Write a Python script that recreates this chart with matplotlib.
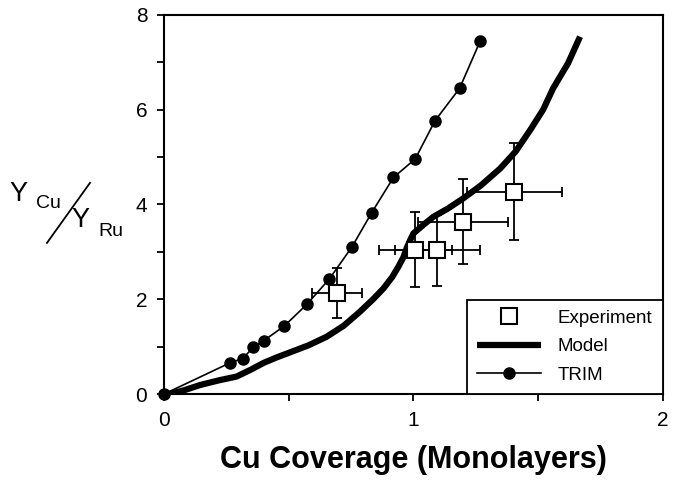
import matplotlib
matplotlib.use("Agg")
import matplotlib.pyplot as plt
from matplotlib.lines import Line2D
from matplotlib.ticker import MultipleLocator, FixedLocator

plt.rcParams['font.family'] = ['Liberation Sans', 'DejaVu Sans']

# TRIM simulation
trim_x = [0.0, 0.265, 0.316, 0.358, 0.401, 0.483, 0.572, 0.663, 0.753, 0.833,
          0.92, 1.007, 1.087, 1.185, 1.267]
trim_y = [0.0, 0.66, 0.75, 0.99, 1.13, 1.44, 1.89, 2.43, 3.10, 3.83,
          4.57, 4.96, 5.77, 6.45, 7.44]

# model curve
model_x = [0.02, 0.08, 0.144, 0.22, 0.291, 0.35, 0.40, 0.45, 0.505, 0.58,
           0.652, 0.72, 0.786, 0.84, 0.88, 0.915, 0.94, 0.96, 0.973, 0.988,
           1.0, 1.04, 1.08, 1.14, 1.2, 1.27, 1.348, 1.41, 1.468, 1.52,
           1.56, 1.62, 1.668]
model_y = [0.0, 0.08, 0.19, 0.29, 0.37, 0.52, 0.66, 0.77, 0.88, 1.03,
           1.21, 1.44, 1.74, 2.01, 2.23, 2.47, 2.69, 2.89, 3.08, 3.26,
           3.39, 3.57, 3.74, 3.92, 4.13, 4.40, 4.76, 5.12, 5.57, 6.00,
           6.45, 6.98, 7.54]

# experiment with error bars
exp_x = [0.692, 1.007, 1.096, 1.20, 1.404]
exp_y = [2.13, 3.05, 3.03, 3.64, 4.27]
exp_xerr = [0.10, 0.147, 0.17, 0.18, 0.19]
exp_yerr = [0.52, 0.80, 0.75, 0.89, 1.02]

fig = plt.figure(figsize=(6.75, 4.8), dpi=100)
ax = fig.add_axes([0.243, 0.179, 0.739, 0.790])

ax.errorbar(exp_x, exp_y, xerr=exp_xerr, yerr=exp_yerr, fmt='none',
            ecolor='black', elinewidth=1.3, capsize=3.5, capthick=1.3, zorder=2)
ax.plot(model_x, model_y, color='black', lw=4.5, solid_capstyle='butt',
        solid_joinstyle='round', zorder=3, label='Model')
ax.plot(trim_x, trim_y, color='black', lw=1.2, marker='o', markersize=8,
        zorder=4, clip_on=False, label='TRIM')
ax.plot(exp_x, exp_y, linestyle='none', marker='s', markersize=12,
        markerfacecolor='white', markeredgecolor='black', markeredgewidth=1.5,
        zorder=5, label='Experiment')

ax.set_xlim(0, 2)
ax.set_ylim(0, 8)
ax.xaxis.set_major_locator(FixedLocator([0, 1, 2]))
ax.xaxis.set_minor_locator(FixedLocator([0.5, 1.5]))
ax.yaxis.set_major_locator(MultipleLocator(2))
ax.yaxis.set_minor_locator(MultipleLocator(1))
ax.tick_params(which='both', direction='out', width=1.3, colors='black',
               labelsize=15)
ax.tick_params(which='major', length=5, pad=7)
ax.tick_params(which='minor', length=5)
for s in ax.spines.values():
    s.set_linewidth(1.5)

ax.set_xlabel('Cu Coverage (Monolayers)', fontsize=22, fontweight='bold',
              labelpad=11)

handles, labels = ax.get_legend_handles_labels()
order = [2, 0, 1]
leg = ax.legend([handles[i] for i in order], [labels[i] for i in order],
                loc='lower right', borderaxespad=0, fancybox=False,
                edgecolor='black', framealpha=1, fontsize=13.5,
                handlelength=3.4, handletextpad=0.9, labelspacing=0.6,
                borderpad=0.55)
leg.get_frame().set_linewidth(1.3)

# y label: Y_Cu / Y_Ru
fig.text(0.028, 0.596, 'Y', fontsize=19.5, ha='center', va='center')
fig.text(0.072, 0.577, 'Cu', fontsize=14, ha='center', va='center')
fig.text(0.1185, 0.542, 'Y', fontsize=19.5, ha='center', va='center')
fig.text(0.165, 0.517, 'Ru', fontsize=14, ha='center', va='center')
fig.add_artist(Line2D([0.0696, 0.1333], [0.494, 0.619], color='black',
                      lw=1.3, transform=fig.transFigure))

fig.savefig('out.png', dpi=100)
